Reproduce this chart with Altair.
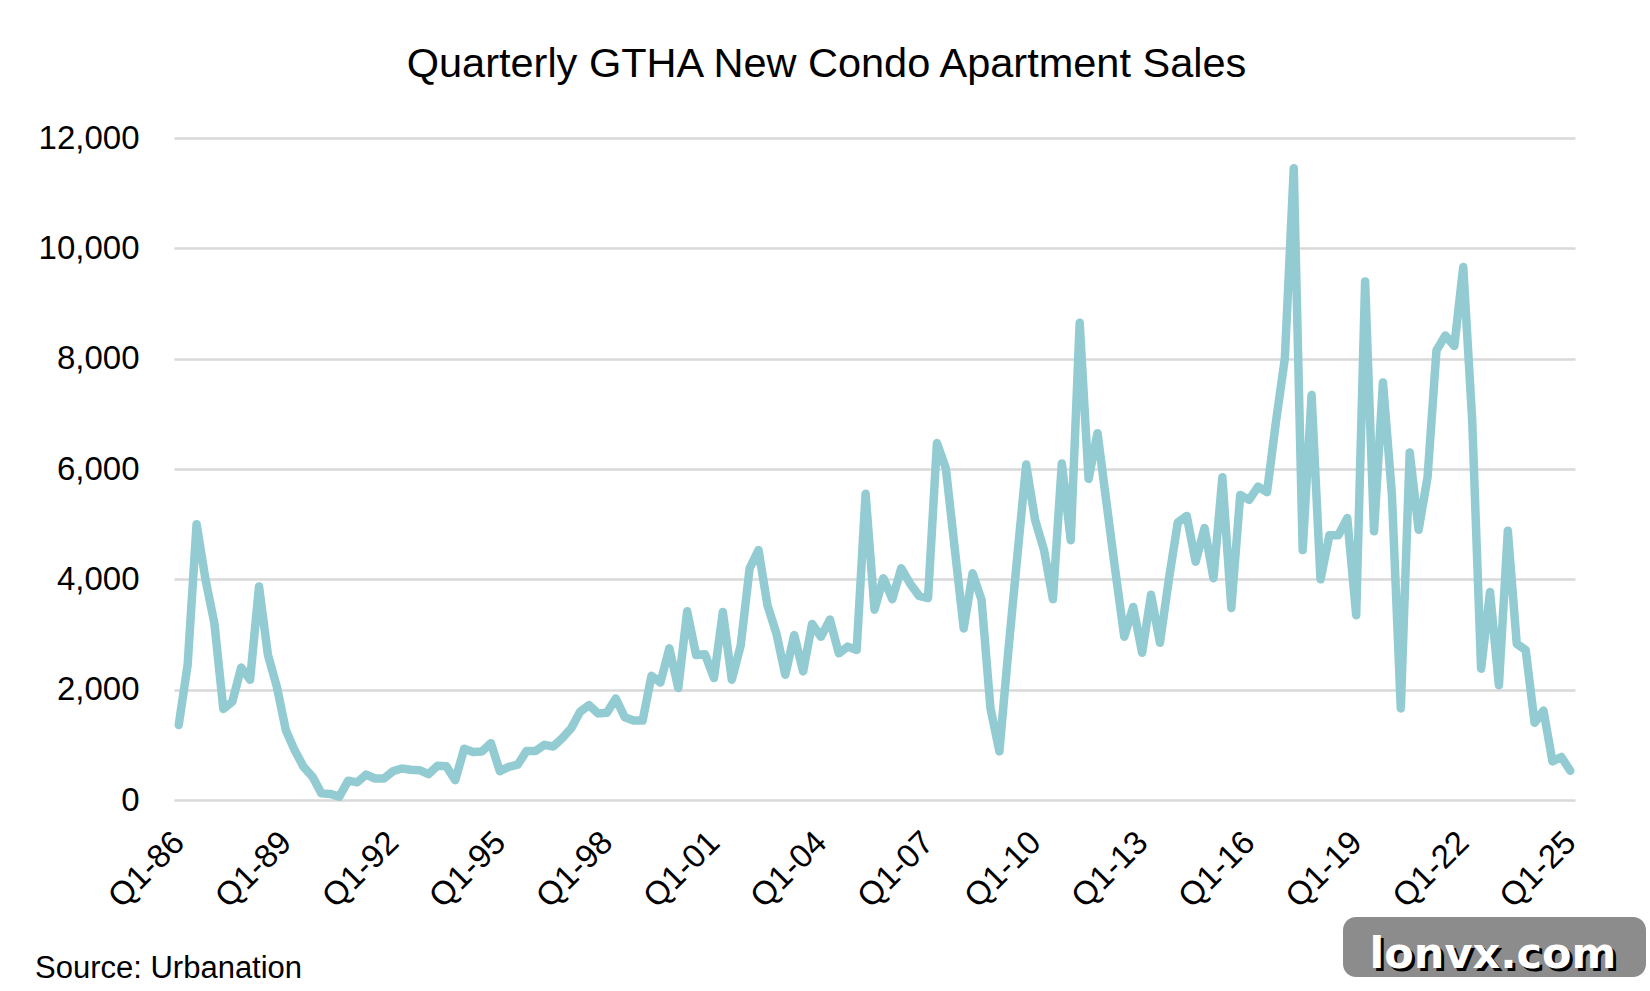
import altair as alt
import pandas as pd

# Quarterly GTHA new condo apartment sales (Q1-86 .. Q1-25)
sales_86_95 = [1360, 2450, 5000, 4000, 3200, 1650, 1780, 2400, 2180, 3870,
               2630, 2050, 1270, 900, 600, 420, 120, 110, 60, 350,
               320, 460, 390, 390, 520, 570, 550, 540, 470, 620,
               610, 360, 930, 870, 880, 1030, 520, 600, 640, 890]
sales_96_05 = [890, 1000, 970, 1120, 1300, 1600, 1720, 1570, 1580, 1840,
               1500, 1440, 1440, 2250, 2130, 2750, 2030, 3420, 2630, 2640,
               2210, 3410, 2180, 2800, 4200, 4530, 3530, 3020, 2270, 2990,
               2330, 3190, 2960, 3270, 2660, 2780, 2720, 5550, 3450, 4020]
sales_06_15 = [3640, 4200, 3920, 3700, 3660, 6470, 6010, 4550, 3110, 4110,
               3630, 1660, 880, 2700, 4400, 6080, 5080, 4530, 3640, 6100,
               4710, 8650, 5820, 6650, 5400, 4150, 2960, 3500, 2670, 3720,
               2850, 4000, 5030, 5150, 4320, 4930, 4020, 5850, 3480, 5530]
sales_16_25 = [5440, 5680, 5580, 6850, 8000, 11450, 4530, 7340, 4000, 4800,
               4800, 5110, 3350, 9400, 4870, 7570, 5550, 1660, 6300, 4900,
               5850, 8150, 8420, 8230, 9660, 6900, 2380, 3770, 2080, 4880,
               2830, 2720, 1400, 1620, 700, 780, 530]

sales = sales_86_95 + sales_96_05 + sales_06_15 + sales_16_25

years = list(range(1986, 2026))
quarters = [f"Q{q}-{y % 100:02d}" for y in years for q in (1, 2, 3, 4)][:len(sales)]
tick_labels = ["Q1-86", "Q1-89", "Q1-92", "Q1-95", "Q1-98", "Q1-01", "Q1-04",
               "Q1-07", "Q1-10", "Q1-13", "Q1-16", "Q1-19", "Q1-22", "Q1-25"]
y_ticks = [0, 2000, 4000, 6000, 8000, 10000, 12000]

df = pd.DataFrame({"quarter": quarters, "sales": sales})

FONT = "Liberation Sans"
W, H = 1401, 662

line = alt.Chart(df).mark_line(
    color="#93CBD2", strokeWidth=8.5, strokeCap="round", strokeJoin="round"
).encode(
    x=alt.X("quarter:N", sort=quarters,
            scale=alt.Scale(type="point", padding=0.53),
            axis=alt.Axis(values=tick_labels, title=None, labelAngle=-45,
                          labelAlign="right", labelBaseline="middle",
                          labelPadding=37, labelFontSize=33, labelFont=FONT,
                          labelColor="#000000", ticks=False, domain=False,
                          grid=False, labelOverlap=False)),
    y=alt.Y("sales:Q", scale=alt.Scale(domain=[0, 12000], nice=False),
            axis=alt.Axis(values=y_ticks, format=",d", title=None,
                          labelFontSize=33, labelFont=FONT, labelColor="#000000",
                          labelPadding=35, ticks=False, domain=False,
                          grid=True, gridColor="#d9d9d9", gridWidth=2.5)),
)

source = alt.Chart(pd.DataFrame({"t": ["Source:  Urbanation"]})).mark_text(
    align="left", baseline="middle", fontSize=31, font=FONT, color="#000000"
).encode(text="t:N", x=alt.value(-139), y=alt.value(831))

badge_bg = alt.Chart(pd.DataFrame({"a": [1]})).mark_rect(
    color="#8c8c8c", cornerRadius=13
).encode(x=alt.value(1169), x2=alt.value(1472), y=alt.value(779), y2=alt.value(839))

badge_shadow = alt.Chart(pd.DataFrame({"t": ["lonvx.com"]})).mark_text(
    align="center", baseline="alphabetic", fontSize=43, font="DejaVu Sans",
    fontWeight="bold", color="#000000"
).encode(text="t:N", x=alt.value(1322), y=alt.value(833))

badge_txt = alt.Chart(pd.DataFrame({"t": ["lonvx.com"]})).mark_text(
    align="center", baseline="alphabetic", fontSize=43, font="DejaVu Sans",
    fontWeight="bold", color="#ffffff"
).encode(text="t:N", x=alt.value(1319), y=alt.value(830))

chart = alt.layer(line, source, badge_bg, badge_shadow, badge_txt).properties(
    width=W, height=H,
    title=alt.TitleParams("Quarterly GTHA New Condo Apartment Sales",
                          fontSize=41.5, font=FONT, fontWeight="normal",
                          color="#000000", anchor="middle", frame="group",
                          dx=-48, offset=37),
    padding={"left": 174, "top": 138, "right": 75, "bottom": 191},
    autosize="none",
    background="#ffffff",
).configure_view(strokeWidth=0, stroke="transparent")

chart.save("out.html", embed_options={"renderer": "svg", "actions": False})
